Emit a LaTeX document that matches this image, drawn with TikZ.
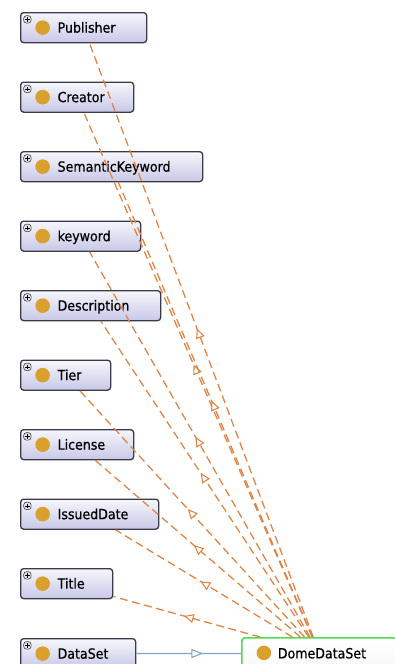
\documentclass[tikz,border=0pt]{standalone}
\usepackage{fontspec}
\newfontfamily\lblfont{DejaVu Sans}[FakeStretch=0.9,FakeBold=0.5]
\usetikzlibrary{arrows.meta,decorations.markings,calc}
\definecolor{edgeor}{RGB}{221,134,72}
\definecolor{subblue}{RGB}{122,166,200}
\definecolor{boxline}{RGB}{58,58,72}
\definecolor{boxtop}{RGB}{246,246,252}
\definecolor{boxbot}{RGB}{200,200,232}
\definecolor{dotc}{RGB}{218,160,46}
\definecolor{selgreen}{RGB}{80,220,80}
\tikzset{
  x=1pt, y=1pt,
  clsbase/.style={line width=1.3pt, rounded corners=3pt,
    minimum height=30pt, inner xsep=4pt, inner ysep=0pt, anchor=north west,
    align=left, text height=12pt, text depth=2pt,
    font=\lblfont\fontsize{14}{16}\selectfont},
  clsbox/.style={clsbase, draw=boxline, top color=boxtop, bottom color=boxbot,
    path picture={
      \fill[dotc] ($(path picture bounding box.north west)+(22,-15)$) circle[radius=7.3pt];
      \draw[boxline, fill=white!80!gray, line width=0.6pt]
        ($(path picture bounding box.north west)+(3,-3)$) rectangle +(7.5,-7.5);
      \draw[black, line width=0.8pt]
        ($(path picture bounding box.north west)+(4.6,-6.75)$) -- +(4.3,0)
        ($(path picture bounding box.north west)+(6.75,-4.6)$) -- +(0,-4.3);
    }},
  selbox/.style={clsbase, line width=1.7pt, draw=selgreen, top color=white, bottom color=white!88!boxbot,
    path picture={
      \fill[dotc] ($(path picture bounding box.north west)+(22,-15)$) circle[radius=7.3pt];
    }},
  rel/.style={draw=edgeor, line width=1.3pt, dash pattern=on 8pt off 4.5pt,
    postaction={decorate},
    decoration={markings, mark=at position 0.52 with
      {\arrow[solid, line width=1.1pt]{Triangle[length=10pt,width=9pt,fill=white]}}}},
  subrel/.style={draw=subblue, line width=1.3pt,
    postaction={decorate},
    decoration={markings, mark=at position 0.64 with
      {\arrow[line width=1.1pt]{Triangle[length=12pt,width=9pt,fill=white]}}}},
}
\begin{document}
\begin{tikzpicture}
\useasboundingbox (0,0) rectangle (394,-664);

% class boxes on the left
\node[clsbox, text width=118pt] (pub)  at (20,-12)    {\hspace*{33pt}Publisher};
\node[clsbox, text width=105pt] (cre)  at (20,-81.5)  {\hspace*{33pt}Creator};
\node[clsbox, text width=174pt] (sem)  at (20,-151)   {\hspace*{33pt}SemanticKeyword};
\node[clsbox, text width=112pt] (kw)   at (20,-220.5) {\hspace*{33pt}keyword};
\node[clsbox, text width=132pt] (desc) at (20,-290)   {\hspace*{33pt}Description};
\node[clsbox, text width=82pt]  (tier) at (20,-359.5) {\hspace*{33pt}Tier};
\node[clsbox, text width=105pt] (lic)  at (20,-429)   {\hspace*{33pt}License};
\node[clsbox, text width=130pt] (iss)  at (20,-498.5) {\hspace*{33pt}IssuedDate};
\node[clsbox, text width=84pt]  (tit)  at (20,-568)   {\hspace*{33pt}Title};
\node[clsbox, text width=107pt] (ds)   at (20,-638)   {\hspace*{33pt}DataSet};

% selected class
\node[selbox, text width=147pt, minimum height=31pt] (dome) at (241,-637) {\hspace*{32pt}DomeDataSet};

% object property links
\foreach \n in {pub,cre,sem,kw,desc,tier,lic,iss,tit}
  \draw[rel] (dome) -- (\n);

% subclass link
\draw[subrel] (ds) -- (dome);
\end{tikzpicture}
\end{document}
